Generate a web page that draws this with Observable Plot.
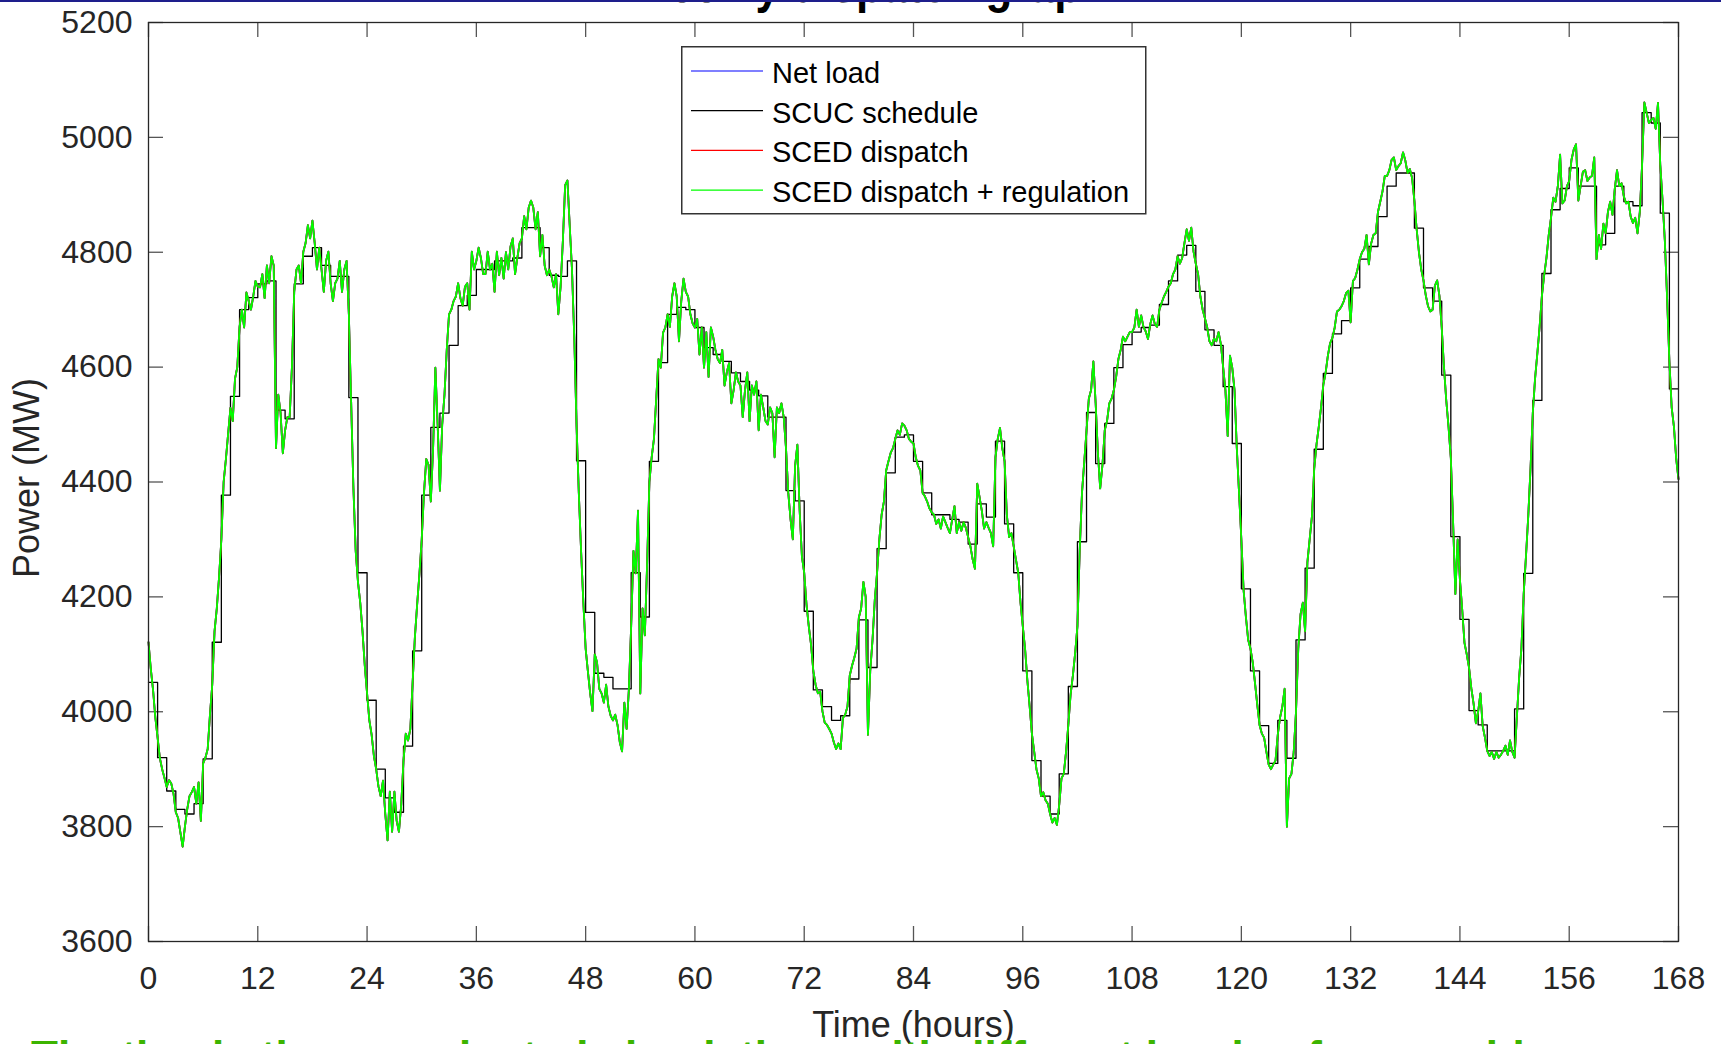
<!DOCTYPE html>
<html>
<head>
<meta charset="utf-8">
<script src="https://cdn.jsdelivr.net/npm/d3@7"></script>
<script src="https://cdn.jsdelivr.net/npm/@observablehq/plot@0.6"></script>
<style>
  html, body { margin: 0; padding: 0; background: #fff; width: 1721px; height: 1044px; overflow: hidden;
    font-family: "Liberation Sans", Arial, Helvetica, sans-serif; }
  #topline { position: absolute; left: 0; top: 0; width: 1721px; height: 2px; background: #1e1e8c; z-index: 6; }
  #title { position: absolute; left: 0; top: 0; z-index: 5; }
  #chart { position: absolute; left: 0; top: 0; }
  #legend { position: absolute; left: 681px; top: 46px; z-index: 4; }
  #caption { position: absolute; left: 0; top: 1000px; z-index: 5; }
</style>
</head>
<body>
<div id="topline"></div>
<div id="chart"></div>
<div id="legend"></div>
<svg id="title" width="1721" height="40" xmlns="http://www.w3.org/2000/svg">
  <text x="629" y="1.5" textLength="479" lengthAdjust="spacingAndGlyphs" font-family="Liberation Sans, Arial, sans-serif" font-weight="bold" font-size="52" fill="#000">Weekly dispatch graph</text>
</svg>
<svg id="caption" width="1721" height="100" xmlns="http://www.w3.org/2000/svg">
  <text x="31" y="72" font-family="Liberation Sans, Arial, sans-serif" font-weight="bold" font-size="44" fill="#3cb400">The thesis then conducted simulations with different levels of renewable energy</text>
</svg>
<script>
// ---------------- data ----------------
// Axis ticks
const xTicks = [0, 12, 24, 36, 48, 60, 72, 84, 96, 108, 120, 132, 144, 156, 168];
const yTicks = [3600, 3800, 4000, 4200, 4400, 4600, 4800, 5000, 5200];

// Series names / colours (legend order = drawing order)
const seriesNames = ["Net load", "SCUC schedule", "SCED dispatch", "SCED dispatch + regulation"];
const seriesColors = ["#0000ff", "#000000", "#ff0000", "#00ff00"];

// Net load, 15-minute samples from hour 0 to hour 168 (MW)
const netLoad = [
  // day 1 (h0-23)
  4121,4075,4038,3990, 3955,3919,3900,3885,
  3869,3881,3875,3857, 3825,3815,3790,3765,
  3800,3830,3853,3860, 3869,3840,3877,3810,
  3910,3920,3935,3995, 4047,4140,4180,4235,
  4300,4400,4440,4485, 4529,4506,4580,4600,
  4670,4700,4669,4730, 4715,4700,4723,4750,
  4740,4739,4762,4720, 4777,4746,4793,4777,
  4459,4552,4521,4450, 4490,4513,4513,4600,
  4731,4770,4777,4746, 4801,4816,4847,4824,
  4855,4816,4770,4808, 4770,4731,4785,4801,
  4746,4715,4746,4754, 4785,4731,4770,4785,
  4692,4540,4390,4280, 4226,4190,4140,4080,
  // day 2 (h24-47)
  4032,3985,3960,3923, 3900,3870,3853,3880,
  3822,3776,3861,3791, 3861,3810,3791,3838,
  3915,3962,3950,3970, 4050,4130,4187,4240,
  4300,4381,4440,4430, 4366,4459,4599,4500,
  4385,4500,4552,4630, 4692,4700,4715,4723,
  4746,4720,4707,4740, 4746,4700,4801,4770,
  4785,4808,4790,4762, 4762,4801,4770,4780,
  4731,4801,4760,4790, 4754,4800,4770,4810,
  4824,4762,4790,4816, 4824,4863,4840,4878,
  4890,4878,4840,4870, 4793,4830,4777,4760,
  4770,4758,4739,4762, 4692,4740,4820,4917,
  4925,4847,4770,4653, 4500,4381,4280,4190,
  // day 3 (h48-71)
  4110,4070,4032,4001, 4100,4086,4040,4032,
  4016,4047,4009,3993, 3985,3995,3977,3947,
  3931,4016,3970,4040, 4150,4280,4241,4350,
  4032,4180,4133,4257, 4400,4443,4475,4545,
  4614,4599,4660,4669, 4692,4670,4723,4746,
  4723,4645,4715,4754, 4731,4723,4692,4676,
  4669,4684,4622,4669, 4599,4661,4583,4669,
  4653,4630,4614,4607, 4630,4568,4591,4607,
  4537,4560,4591,4575, 4568,4513,4560,4591,
  4506,4568,4552,4575, 4490,4552,4530,4506,
  4500,4530,4520,4443, 4530,4520,4537,4513,
  4459,4381,4335,4300, 4428,4465,4350,4270,
  // day 4 (h72-95)
  4242,4187,4149,4117, 4071,4047,4032,4035,
  4001,3981,3977,3970, 3962,3947,3935,3945,
  3935,3989,3995,4009, 4063,4080,4094,4110,
  4164,4180,4226,4200, 3960,4071,4125,4195,
  4242,4300,4343,4366, 4420,4436,4451,4459,
  4475,4490,4482,4502, 4498,4490,4475,4470,
  4467,4443,4428,4420, 4381,4375,4366,4354,
  4347,4343,4327,4335, 4319,4340,4330,4320,
  4311,4335,4358,4311, 4330,4315,4330,4320,
  4304,4288,4265,4249, 4397,4374,4350,4319,
  4330,4320,4311,4288, 4443,4475,4494,4459,
  4436,4343,4304,4311, 4288,4265,4242,4190,
  // day 5 (h96-119)
  4149,4110,4055,4010, 3962,3931,3900,3884,
  3853,3860,3846,3840, 3822,3807,3815,3803,
  3838,3884,3892,3930, 3977,4030,4063,4102,
  4149,4280,4381,4435, 4490,4545,4560,4610,
  4537,4450,4389,4430, 4490,4506,4537,4545,
  4560,4583,4614,4630, 4653,4645,4653,4661,
  4661,4669,4700,4670, 4690,4670,4662,4649,
  4675,4690,4675,4670, 4700,4712,4723,4731,
  4740,4746,4762,4770, 4793,4780,4790,4816,
  4840,4820,4843,4801, 4780,4762,4723,4700,
  4685,4669,4645,4638, 4650,4645,4661,4640,
  4600,4560,4480,4620, 4599,4560,4459,4380,
  // day 6 (h120-143)
  4300,4211,4165,4125, 4110,4086,4050,4012,
  3977,3962,3955,3930, 3908,3900,3908,3915,
  3960,3990,4009,4040, 3800,3884,3892,3930,
  4000,4110,4170,4190, 4140,4260,4300,4340,
  4423,4465,4496,4530, 4569,4590,4620,4642,
  4651,4669,4697,4700, 4706,4715,4729,4733,
  4678,4750,4755,4770, 4788,4800,4806,4830,
  4779,4815,4830,4833, 4870,4888,4906,4933,
  4933,4943,4961,4965, 4943,4950,4955,4974,
  4960,4938,4945,4929, 4890,4840,4800,4770,
  4751,4725,4706,4697, 4700,4742,4751,4724,
  4669,4600,4542,4496, 4442,4330,4205,4300,
  // day 7 (h144-167) and h168
  4230,4178,4120,4100, 4077,4041,4014,3980,
  4000,4032,3975,3955, 3932,3923,3930,3918,
  3930,3920,3925,3932, 3941,3925,3950,3930,
  3920,3990,4059,4110, 4205,4270,4340,4423,
  4520,4580,4624,4670, 4724,4760,4790,4830,
  4860,4895,4888,4915, 4970,4885,4890,4915,
  4924,4961,4979,4988, 4890,4915,4940,4943,
  4924,4930,4933,4965, 4788,4830,4806,4850,
  4833,4870,4888,4865, 4910,4943,4915,4920,
  4897,4885,4888,4862, 4851,4860,4833,4870,
  4952,5061,5043,5025, 5030,5034,5015,5060,
  4952,4890,4820,4720, 4610,4530,4496,4440,
  4405
];

// SCED dispatch and SCED dispatch + regulation coincide with the net load at this scale
const scedDispatch = netLoad;
const scedRegulation = netLoad;

// Hourly SCUC schedule (MW), hour h covers [h, h+1)
const scucSchedule = [
  4051,3920,3862,3830,3822,3840,3918,4121,4377,4549,4700,4721,4745,4750,4525,4510,4745,4793,4808,4777,4758,4758,4547,4242,
  4020,3900,3850,3825,3940,4106,4377,4495,4520,4638,4707,4725,4770,4770,4785,4785,4790,4843,4843,4808,4760,4758,4785,4437,
  4173,4067,4060,4040,4040,4242,4165,4436,4608,4692,4704,4700,4669,4634,4622,4610,4590,4575,4560,4550,4513,4513,4385,4367,
  4175,4038,4009,3985,3993,4057,4160,4077,4284,4416,4478,4482,4436,4381,4343,4343,4335,4330,4292,4362,4339,4471,4327,4242,
  4071,3915,3853,3822,3892,4044,4296,4521,4432,4502,4599,4639,4661,4669,4673,4709,4750,4795,4812,4732,4665,4638,4566,4467,
  4214,4071,3976,3910,3985,3919,4125,4250,4457,4589,4658,4681,4738,4788,4810,4862,4915,4938,4938,4842,4738,4715,4586,4305,
  4161,4002,3977,3932,3932,3932,4005,4241,4542,4763,4874,4911,4947,4915,4915,4813,4833,4915,4888,4881,5043,5025,4868,4562
];

// ---------------- build tables ----------------
const toQuarterHours = arr => arr.map((v, i) => ({t: i / 4, v}));
const netData = toQuarterHours(netLoad);
const scedData = toQuarterHours(scedDispatch);
const scedRegData = toQuarterHours(scedRegulation);
const scucData = scucSchedule.map((v, i) => ({t: i, v}))
  .concat([{t: 168, v: scucSchedule[scucSchedule.length - 1]}]);

// ---------------- chart ----------------
const W = 1721, H = 1044;
const mL = 148, mR = 43, mT = 22, mB = 103;
const innerW = W - mL - mR, innerH = H - mT - mB;
const tickLen = 15;
const axisColor = "#262626";

const chart = Plot.plot({
  width: W,
  height: H,
  marginLeft: mL,
  marginRight: mR,
  marginTop: mT,
  marginBottom: mB,
  x: {domain: [0, 168]},
  y: {domain: [3600, 5200]},
  style: {fontFamily: '"Liberation Sans", Arial, Helvetica, sans-serif', color: axisColor, background: "white"},
  marks: [
    Plot.axisX({ticks: xTicks, tickSize: 0, tickPadding: 25, fontSize: 32, label: null, tickFormat: "d"}),
    Plot.axisY({ticks: yTicks, tickSize: 0, tickPadding: 16, fontSize: 32, label: null, tickFormat: "d"}),
    // inward ticks on all four sides
    Plot.tickX(xTicks, {x: d => d, insetTop: innerH - tickLen, stroke: "#555", strokeWidth: 1.3}),
    Plot.tickX(xTicks, {x: d => d, insetBottom: innerH - tickLen, stroke: "#555", strokeWidth: 1.3}),
    Plot.tickY(yTicks, {y: d => d, insetRight: innerW - tickLen, stroke: "#555", strokeWidth: 1.3}),
    Plot.tickY(yTicks, {y: d => d, insetLeft: innerW - tickLen, stroke: "#555", strokeWidth: 1.3}),
    // series
    Plot.line(netData, {x: "t", y: "v", stroke: seriesColors[0], strokeWidth: 1.8}),
    Plot.line(scucData, {x: "t", y: "v", curve: "step-after", stroke: seriesColors[1], strokeWidth: 1.3}),
    Plot.line(scedData, {x: "t", y: "v", stroke: seriesColors[2], strokeWidth: 1.8}),
    Plot.line(scedRegData, {x: "t", y: "v", stroke: seriesColors[3], strokeWidth: 1.8}),
    Plot.frame({stroke: axisColor, strokeWidth: 1.3}),
    // axis titles
    Plot.text(["Power (MW)"], {text: d => d, frameAnchor: "left", textAnchor: "middle", lineAnchor: "middle",
      dx: -121, dy: -4, rotate: -90, fontSize: 36, fill: axisColor}),
    Plot.text(["Time (hours)"], {text: d => d, frameAnchor: "bottom", textAnchor: "middle", dy: 95, fontSize: 36, fill: axisColor})
  ]
});
document.getElementById("chart").appendChild(chart);

// ---------------- legend (inside the axes, top centre) ----------------
const ns = "http://www.w3.org/2000/svg";
const lg = document.createElementNS(ns, "svg");
lg.setAttribute("width", 466);
lg.setAttribute("height", 170);
const box = document.createElementNS(ns, "rect");
box.setAttribute("x", 0.75); box.setAttribute("y", 0.75);
box.setAttribute("width", 464); box.setAttribute("height", 167);
box.setAttribute("fill", "#fff"); box.setAttribute("stroke", "#333"); box.setAttribute("stroke-width", 1.5);
lg.appendChild(box);
seriesNames.forEach((name, i) => {
  const cy = 25 + 39.7 * i;
  const ln = document.createElementNS(ns, "line");
  ln.setAttribute("x1", 10); ln.setAttribute("x2", 82);
  ln.setAttribute("y1", cy); ln.setAttribute("y2", cy);
  ln.setAttribute("stroke", seriesColors[i]); ln.setAttribute("stroke-width", 1.2);
  lg.appendChild(ln);
  const tx = document.createElementNS(ns, "text");
  tx.setAttribute("x", 91); tx.setAttribute("y", cy + 12);
  tx.setAttribute("font-size", 29);
  tx.setAttribute("font-family", '"Liberation Sans", Arial, sans-serif');
  tx.setAttribute("fill", "#000");
  tx.textContent = name;
  lg.appendChild(tx);
});
document.getElementById("legend").appendChild(lg);
</script>
</body>
</html>
